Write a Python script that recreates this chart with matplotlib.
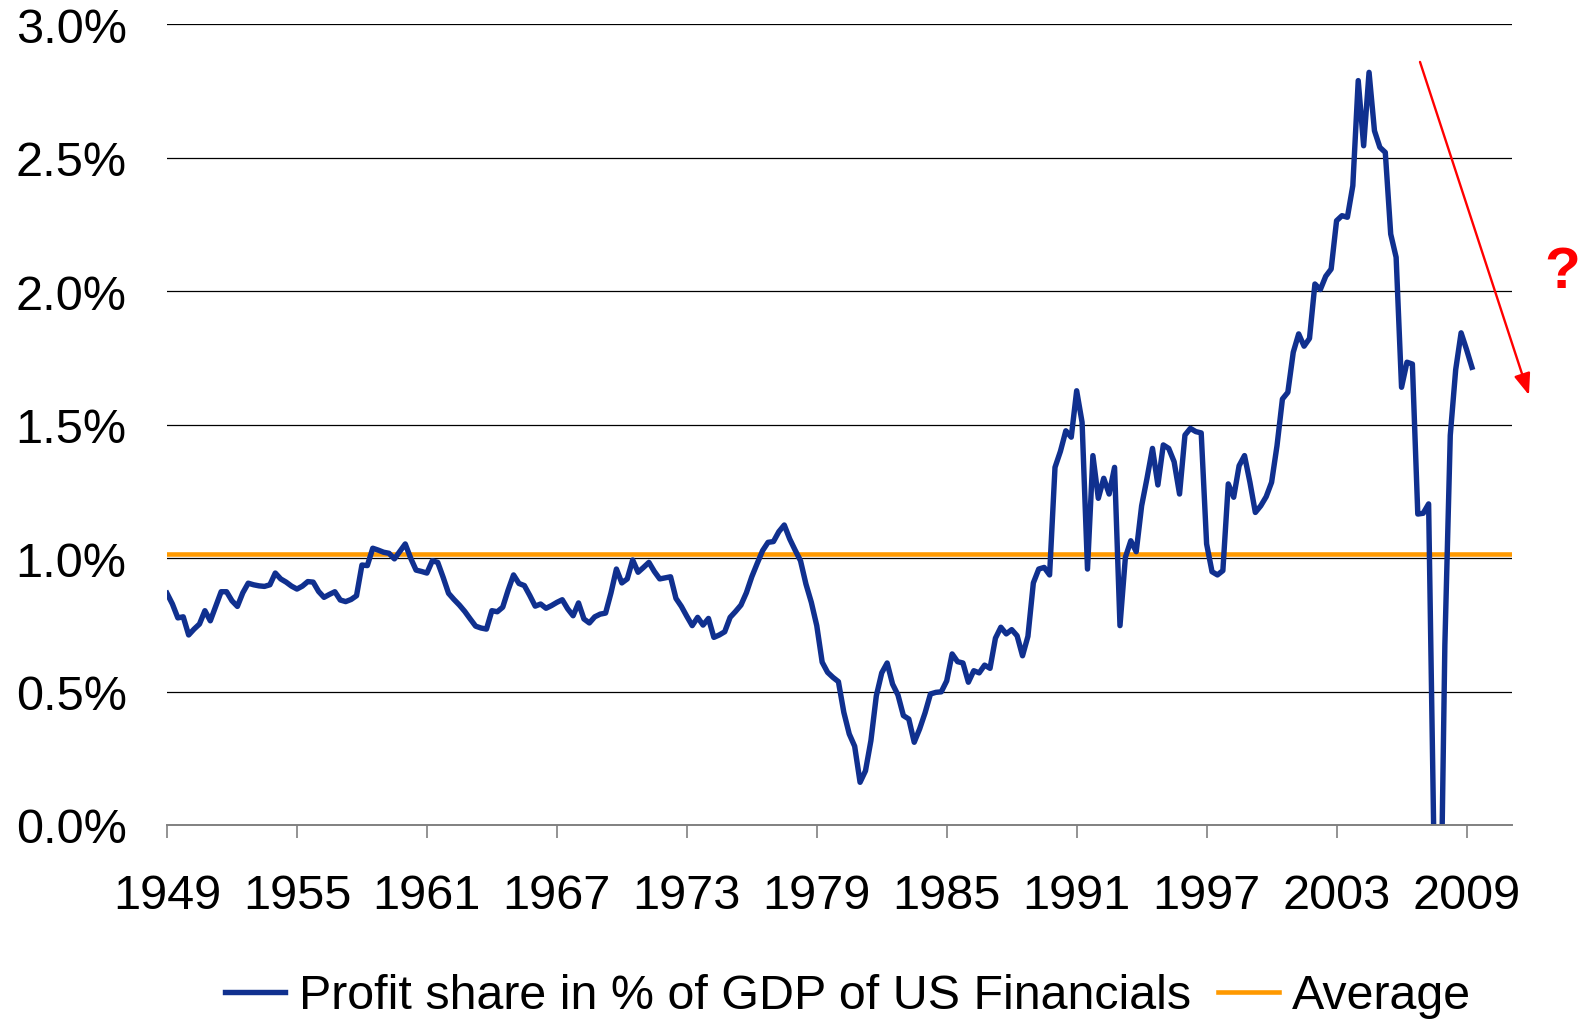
import numpy as np
import pandas as pd
import matplotlib
matplotlib.use("Agg")
import matplotlib.pyplot as plt

plt.rcParams['font.family'] = ['Liberation Sans', 'DejaVu Sans']

# Quarterly profit share of US financial corporations, % of GDP (from 1949Q1)
start_quarter = "1949Q1"
profit_share = [
    0.868, 0.828, 0.776, 0.780,   # 1949
    0.712, 0.734, 0.753, 0.803,   # 1950
    0.765, 0.820, 0.874, 0.874,   # 1951
    0.840, 0.819, 0.870, 0.906,   # 1952
    0.900, 0.896, 0.894, 0.900,   # 1953
    0.944, 0.922, 0.910, 0.895,   # 1954
    0.884, 0.895, 0.912, 0.910,   # 1955
    0.875, 0.853, 0.864, 0.874,   # 1956
    0.843, 0.837, 0.845, 0.859,   # 1957
    0.974, 0.972, 1.037, 1.030,   # 1958
    1.022, 1.018, 0.997, 1.025,   # 1959
    1.053, 1.000, 0.955, 0.950,   # 1960
    0.944, 0.990, 0.984, 0.928,   # 1961
    0.868, 0.845, 0.824, 0.800,   # 1962
    0.772, 0.745, 0.738, 0.734,   # 1963
    0.803, 0.799, 0.816, 0.880,   # 1964
    0.937, 0.905, 0.897, 0.860,   # 1965
    0.820, 0.828, 0.812, 0.822,   # 1966
    0.834, 0.844, 0.810, 0.784,   # 1967
    0.832, 0.772, 0.757, 0.780,   # 1968
    0.790, 0.794, 0.870, 0.959,   # 1969
    0.907, 0.922, 0.993, 0.947,   # 1970
    0.965, 0.984, 0.950, 0.922,   # 1971
    0.926, 0.930, 0.849, 0.819,   # 1972
    0.782, 0.747, 0.778, 0.749,   # 1973
    0.774, 0.703, 0.712, 0.724,   # 1974
    0.778, 0.800, 0.824, 0.870,   # 1975
    0.930, 0.980, 1.028, 1.059,   # 1976
    1.062, 1.099, 1.124, 1.072,   # 1977
    1.030, 0.990, 0.903, 0.834,   # 1978
    0.747, 0.610, 0.572, 0.553,   # 1979
    0.537, 0.422, 0.341, 0.295,   # 1980
    0.160, 0.203, 0.316, 0.484,   # 1981
    0.570, 0.607, 0.528, 0.487,   # 1982
    0.410, 0.397, 0.310, 0.360,   # 1983
    0.420, 0.491, 0.497, 0.499,   # 1984
    0.540, 0.641, 0.612, 0.607,   # 1985
    0.535, 0.578, 0.570, 0.599,   # 1986
    0.587, 0.700, 0.741, 0.716,   # 1987
    0.732, 0.709, 0.634, 0.707,   # 1988
    0.907, 0.959, 0.965, 0.937,   # 1989
    1.340, 1.400, 1.477, 1.453,   # 1990
    1.627, 1.509, 0.959, 1.384,   # 1991
    1.224, 1.299, 1.240, 1.340,   # 1992
    0.747, 1.003, 1.065, 1.024,   # 1993
    1.196, 1.300, 1.411, 1.274,   # 1994
    1.424, 1.411, 1.361, 1.240,   # 1995
    1.461, 1.486, 1.474, 1.469,   # 1996
    1.053, 0.949, 0.937, 0.953,   # 1997
    1.278, 1.228, 1.346, 1.384,   # 1998
    1.284, 1.171, 1.196, 1.230,   # 1999
    1.284, 1.421, 1.596, 1.621,   # 2000
    1.771, 1.840, 1.794, 1.823,   # 2001
    2.027, 2.006, 2.056, 2.083,   # 2002
    2.264, 2.283, 2.277, 2.395,   # 2003
    2.789, 2.545, 2.820, 2.601,   # 2004
    2.539, 2.520, 2.214, 2.127,   # 2005
    1.640, 1.734, 1.727, 1.165,   # 2006
    1.168, 1.203, -0.100, -0.700, # 2007
    0.674, 1.460, 1.706, 1.844,   # 2008
    1.782, 1.715,                 # 2009
]
average_share = 1.015

tick_years = [1949, 1955, 1961, 1967, 1973, 1979, 1985, 1991, 1997, 2003, 2009]
y_ticks = [0.0, 0.5, 1.0, 1.5, 2.0, 2.5, 3.0]

series_label = "Profit share in % of GDP of US Financials"
average_label = "Average"

NAVY = "#10308f"
ORANGE = "#ff9900"
RED = "#ff0000"

periods = pd.period_range(start_quarter, periods=len(profit_share), freq="Q")
x = periods.year + (periods.quarter - 1) / 4.0

fig = plt.figure(figsize=(15.85, 10.2), dpi=100)
ax = fig.add_axes([167 / 1585, 1 - 826 / 1020, (1512 - 167) / 1585, (826 - 25.3) / 1020])

ax.set_xlim(1949, 2011.1)
ax.set_ylim(0, 3.0)

for yv in y_ticks[1:]:
    ax.axhline(yv, color="black", lw=0.9, zorder=1)

line_series, = ax.plot(x, profit_share, color=NAVY, lw=3.9, zorder=3,
                       solid_joinstyle="round", label=series_label)
line_avg = ax.axhline(average_share, color=ORANGE, lw=3.3, zorder=2, label=average_label)

for side in ("top", "right", "left"):
    ax.spines[side].set_visible(False)
ax.spines["bottom"].set_color("#808080")
ax.spines["bottom"].set_linewidth(1.4)
ax.spines["bottom"].set_zorder(4)

ax.set_xticks(tick_years)
ax.set_xticklabels([str(y) for y in tick_years])
ax.set_yticks(y_ticks)
ax.set_yticklabels([f"{v:.1f}%" for v in y_ticks])
ax.tick_params(axis="x", direction="out", length=9.5, width=1.2, color="#808080",
               labelsize=35, pad=25)
ax.tick_params(axis="y", length=0, labelsize=35, pad=29)

# downward arrow and question mark beside the recent data
ax.annotate("", xy=(1.0126, 0.537), xytext=(0.9316, 0.953), xycoords="axes fraction",
            textcoords="axes fraction", annotation_clip=False,
            arrowprops=dict(arrowstyle="-|>,head_length=1.3,head_width=0.5",
                            color=RED, lw=1.7, shrinkA=0, shrinkB=0))
ax.text(1.037, 0.691, "?", transform=ax.transAxes, color=RED, fontsize=42,
        fontweight="bold", ha="center", va="center", clip_on=False)

fig.legend(handles=[line_series, line_avg], labels=[series_label, average_label],
           loc="center", bbox_to_anchor=(848 / 1585, 1 - 997 / 1020), ncol=2,
           frameon=False, fontsize=34.8, handlelength=1.25, handletextpad=0.28,
           columnspacing=0.57, borderpad=0)

fig.savefig("out.png", dpi=100)
